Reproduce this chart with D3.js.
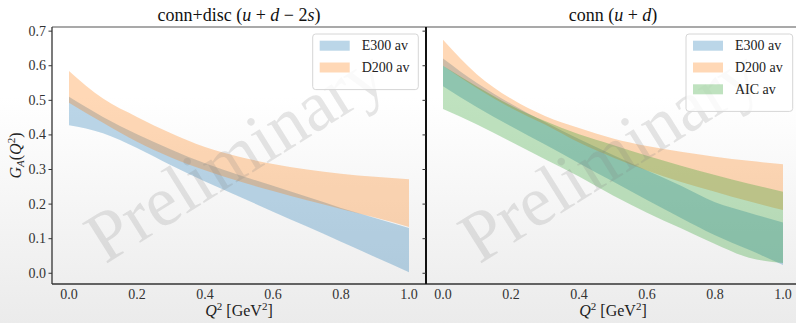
<!DOCTYPE html>
<html>
<head>
<meta charset="utf-8">
<script src="https://cdn.jsdelivr.net/npm/d3@7"></script>
<style>
  html, body { margin: 0; padding: 0; background: #fff; }
  svg { display: block; }
  text { font-family: 'Liberation Serif', 'DejaVu Serif', serif; }
</style>
</head>
<body>
<div id="chart"></div>
<script>
const qGrid = [0.0, 0.1, 0.2, 0.3, 0.4, 0.5, 0.6, 0.7, 0.8, 0.9, 1.0];

// conn+disc (u+d-2s)
const discE300Upper = [0.510, 0.452, 0.402, 0.358, 0.318, 0.284, 0.253, 0.221, 0.189, 0.160, 0.131];
const discE300Lower = [0.428, 0.405, 0.362, 0.312, 0.265, 0.222, 0.178, 0.135, 0.091, 0.047, 0.003];
const discD200Upper = [0.585, 0.505, 0.452, 0.405, 0.365, 0.337, 0.316, 0.300, 0.288, 0.279, 0.272];
const discD200Lower = [0.493, 0.435, 0.380, 0.335, 0.298, 0.266, 0.238, 0.211, 0.186, 0.161, 0.134];

// conn (u+d)
const connE300Upper = [0.621, 0.550, 0.490, 0.437, 0.388, 0.342, 0.297, 0.253, 0.205, 0.175, 0.147];
const connE300Lower = [0.541, 0.480, 0.425, 0.372, 0.318, 0.265, 0.212, 0.160, 0.110, 0.068, 0.024];
const connD200Upper = [0.675, 0.575, 0.505, 0.455, 0.420, 0.390, 0.368, 0.351, 0.337, 0.325, 0.315];
const connD200Lower = [0.600, 0.535, 0.478, 0.430, 0.378, 0.335, 0.297, 0.264, 0.236, 0.208, 0.183];
const connAICUpper  = [0.600, 0.540, 0.485, 0.440, 0.402, 0.371, 0.340, 0.311, 0.284, 0.259, 0.236];
const connAICLower  = [0.475, 0.430, 0.380, 0.330, 0.280, 0.225, 0.175, 0.130, 0.085, 0.045, 0.030];

const xTicks = [0.0, 0.2, 0.4, 0.6, 0.8, 1.0];
const yTicks = [0.0, 0.1, 0.2, 0.3, 0.4, 0.5, 0.6, 0.7];

const COLORS = { E300: '#1f77b4', D200: '#ff7f0e', AIC: '#2ca02c' };
const FONT = "'Liberation Serif', 'DejaVu Serif', serif";

const width = 796;
const height = 323;
const axTop = 27;
const axBottom = 284;

const svg = d3.select('#chart').append('svg')
  .attr('width', width).attr('height', height)
  .attr('font-family', FONT);

const defs = svg.append('defs');
const grad = defs.append('linearGradient').attr('id', 'bg')
  .attr('x1', 0).attr('y1', 0).attr('x2', 0).attr('y2', 1);
grad.append('stop').attr('offset', '0%').attr('stop-color', '#ffffff');
grad.append('stop').attr('offset', '30%').attr('stop-color', '#ffffff');
grad.append('stop').attr('offset', '100%').attr('stop-color', '#ebebeb');

svg.append('rect').attr('width', width).attr('height', height).attr('fill', 'url(#bg)');

const y = d3.scaleLinear().domain([-0.031, 0.712]).range([axBottom, axTop]);

function band(lower, upper) {
  return qGrid.map((q, i) => ({ q: q, lo: lower[i], hi: upper[i] }));
}

function label(sel) {
  return sel.style('font-family', FONT);
}

function drawPanel(opts) {
  const x = d3.scaleLinear().domain([-0.05, 1.05]).range([opts.left, opts.right]);
  const g = svg.append('g');

  const area = d3.area()
    .curve(d3.curveMonotoneX)
    .x(d => x(d.q))
    .y0(d => y(d.lo))
    .y1(d => y(d.hi));

  opts.series.forEach(s => {
    g.append('path')
      .datum(band(s.lower, s.upper))
      .attr('d', area)
      .attr('fill', COLORS[s.key])
      .attr('fill-opacity', 0.3);
  });

  // watermark
  const cx = (opts.left + opts.right) / 2;
  const cy = (axTop + axBottom) / 2 + 6;
  label(g.append('text'))
    .attr('transform', 'translate(' + cx + ',' + cy + ') rotate(-32)')
    .attr('text-anchor', 'middle')
    .attr('dominant-baseline', 'middle')
    .attr('font-size', 72)
    .attr('textLength', 336)
    .attr('lengthAdjust', 'spacingAndGlyphs')
    .attr('fill', '#808080')
    .attr('fill-opacity', 0.2)
    .text('Preliminary');

  // spines
  g.append('line').attr('x1', opts.left).attr('x2', opts.right).attr('y1', axTop).attr('y2', axTop)
    .attr('stroke', '#555').attr('stroke-width', 1.1);
  g.append('line').attr('x1', opts.left).attr('x2', opts.right).attr('y1', axBottom).attr('y2', axBottom)
    .attr('stroke', '#333').attr('stroke-width', 1.3);
  g.append('line').attr('x1', opts.left).attr('x2', opts.left).attr('y1', axTop).attr('y2', axBottom)
    .attr('stroke', opts.left > 100 ? '#111' : '#333').attr('stroke-width', opts.left > 100 ? 2 : 1.3);

  // x tick labels
  label(g.selectAll('text.xt').data(xTicks).enter().append('text'))
    .attr('class', 'xt')
    .attr('x', d => x(d))
    .attr('y', 299)
    .attr('text-anchor', 'middle')
    .attr('font-size', 14)
    .attr('fill', '#333')
    .text(d => d.toFixed(1));

  // x label
  const xl = label(g.append('text'))
    .attr('x', x(0.5))
    .attr('y', 316)
    .attr('text-anchor', 'middle')
    .attr('font-size', 16)
    .attr('fill', '#222');
  xl.append('tspan').attr('font-style', 'italic').text('Q');
  xl.append('tspan').attr('font-size', 11).attr('dy', -6).text('2');
  xl.append('tspan').attr('dy', 6).text(' [GeV');
  xl.append('tspan').attr('font-size', 11).attr('dy', -6).text('2');
  xl.append('tspan').attr('dy', 6).text(']');

  // title
  const t = label(g.append('text'))
    .attr('x', x(0.5))
    .attr('y', 21)
    .attr('text-anchor', 'middle')
    .attr('font-size', 18)
    .attr('fill', '#111');
  opts.title.forEach(p => {
    t.append('tspan').attr('font-style', p[1] ? 'italic' : null).text(p[0]);
  });

  // legend
  const rowH = 21.8;
  const lg = g.append('g').attr('transform', 'translate(' + opts.legendX + ',34)');
  lg.append('rect')
    .attr('width', opts.legendW)
    .attr('height', 12 + rowH * opts.series.length)
    .attr('rx', 3)
    .attr('fill', '#fff').attr('fill-opacity', 0.8)
    .attr('stroke', '#d6d6d6').attr('stroke-width', 1);
  opts.series.forEach((s, i) => {
    const cyRow = 11.7 + i * rowH;
    lg.append('rect')
      .attr('x', 7).attr('y', cyRow - 5)
      .attr('width', 30).attr('height', 10)
      .attr('fill', COLORS[s.key]).attr('fill-opacity', 0.3);
    label(lg.append('text'))
      .attr('x', 49).attr('y', cyRow + 4.5)
      .attr('font-size', 14)
      .attr('fill', '#222')
      .text(s.key + ' av');
  });

  return x;
}

drawPanel({
  left: 52, right: 426,
  title: [['conn+disc (', false], ['u', true], [' + ', false], ['d', true], [' \u2212 2', false], ['s', true], [')', false]],
  legendX: 312.7, legendW: 105.6,
  series: [
    { key: 'E300', lower: discE300Lower, upper: discE300Upper },
    { key: 'D200', lower: discD200Lower, upper: discD200Upper }
  ]
});

drawPanel({
  left: 426, right: 800,
  title: [['conn (', false], ['u', true], [' + ', false], ['d', true], [')', false]],
  legendX: 686, legendW: 106.7,
  series: [
    { key: 'E300', lower: connE300Lower, upper: connE300Upper },
    { key: 'D200', lower: connD200Lower, upper: connD200Upper },
    { key: 'AIC', lower: connAICLower, upper: connAICUpper }
  ]
});

// shared y axis ticks
const yAxis = svg.append('g');
yAxis.selectAll('line.l').data(yTicks).enter().append('line')
  .attr('x1', 48.5).attr('x2', 52)
  .attr('y1', d => y(d)).attr('y2', d => y(d))
  .attr('stroke', '#333').attr('stroke-width', 1);
yAxis.selectAll('line.m').data(yTicks).enter().append('line')
  .attr('x1', 422.5).attr('x2', 426)
  .attr('y1', d => y(d)).attr('y2', d => y(d))
  .attr('stroke', '#333').attr('stroke-width', 1);
label(yAxis.selectAll('text').data(yTicks).enter().append('text'))
  .attr('x', 46)
  .attr('y', d => y(d) + 4.5)
  .attr('text-anchor', 'end')
  .attr('font-size', 14)
  .attr('fill', '#333')
  .text(d => d.toFixed(1));

const yl = label(svg.append('text'))
  .attr('transform', 'translate(21,' + ((axTop + axBottom) / 2) + ') rotate(-90)')
  .attr('text-anchor', 'middle')
  .attr('font-size', 16)
  .attr('fill', '#222');
yl.append('tspan').attr('font-style', 'italic').text('G');
yl.append('tspan').attr('font-style', 'italic').attr('font-size', 11).attr('dy', 3).text('A');
yl.append('tspan').attr('dy', -3).text('(');
yl.append('tspan').attr('font-style', 'italic').text('Q');
yl.append('tspan').attr('font-size', 11).attr('dy', -6).text('2');
yl.append('tspan').attr('dy', 6).text(')');
</script>
</body>
</html>
